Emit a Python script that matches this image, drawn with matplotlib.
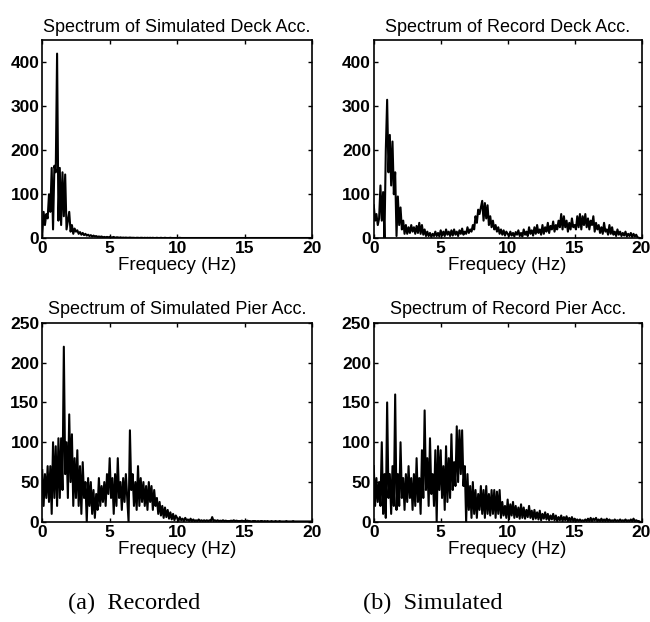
import numpy as np
import matplotlib.pyplot as plt

# frequency grid, 0.1 Hz steps
freq = np.arange(200) * 0.1

# top-left: Spectrum of Simulated Deck Acc.
sim_deck = [
    5, 60, 30, 55, 45, 100, 60, 160, 20, 165,
    150, 420, 40, 160, 30, 150, 50, 145, 20, 40,
    60, 15, 30, 10, 22, 15, 18, 10, 14, 8,
    12, 7, 10, 6, 8, 5, 7, 4, 6, 4,
    5, 3, 4, 3, 4, 2, 3, 2, 3, 2,
    3, 2, 2, 3, 1, 2, 2, 1, 2, 1,
    1.5, 1, 1.5, 1, 1, 1.5, 1, 1, 1, 0.5,
    1, 1, 0.5, 1, 1, 0.5, 1, 0.5, 1, 0.5,
    1, 0.5, 1, 0.5, 0.5, 1, 0.5, 0.5, 1, 0.5,
    0.5, 1, 0.5, 0.5, 0.5, 1, 0.5, 0.5, 0.5, 0.5,
    0.5, 0.5, 1, 0.5, 0.5, 0.5, 0.5, 0.5, 0.5, 0.5,
    0.5, 0.5, 0.5, 0.5, 0.5, 0.5, 0.5, 0.5, 0.5, 0.5,
    0.5, 0.5, 0.5, 0.5, 0.5, 0.5, 0.5, 0.5, 0.5, 0.5,
    0.5, 0.5, 0.5, 0.5, 0.5, 0.5, 0.5, 0.5, 0.5, 0.5,
    0.5, 0.5, 0.5, 0.5, 0.5, 0.5, 0.5, 0.5, 0.5, 0.5,
    0.5, 0.5, 0.5, 0.5, 0.5, 0.5, 0.5, 0.5, 0.5, 0.5,
    0.5, 0.5, 0.5, 0.5, 0.5, 0.5, 0.5, 0.5, 0.5, 0.5,
    0.5, 0.5, 0.5, 0.5, 0.5, 0.5, 0.5, 0.5, 0.5, 0.5,
    0.5, 0.5, 0.5, 0.5, 0.5, 0.5, 0.5, 0.5, 0.5, 0.5,
    0.5, 0.5, 0.5, 0.5, 0.5, 0.5, 0.5, 0.5, 0.5, 0.5,
]

# top-right: Spectrum of Record Deck Acc.
rec_deck = [
    75, 40, 55, 30, 45, 120, 40, 105, 0, 200,
    315, 150, 235, 120, 220, 100, 150, 5, 95, 30,
    70, 20, 40, 10, 30, 10, 25, 12, 30, 15,
    25, 10, 28, 12, 35, 10, 30, 8, 20, 5,
    15, 5, 12, 3, 10, 5, 15, 5, 12, 4,
    18, 6, 15, 5, 20, 8, 15, 5, 18, 6,
    20, 8, 15, 5, 18, 10, 22, 8, 15, 10,
    25, 12, 20, 15, 30, 20, 50, 35, 65, 55,
    70, 85, 40, 80, 45, 75, 30, 50, 25, 40,
    20, 30, 15, 25, 10, 20, 8, 18, 6, 15,
    10, 5, 15, 6, 12, 4, 14, 8, 18, 5,
    12, 4, 20, 8, 15, 5, 25, 10, 18, 6,
    25, 10, 30, 12, 20, 8, 30, 10, 25, 15,
    35, 12, 28, 20, 38, 15, 30, 20, 40, 25,
    55, 20, 50, 25, 40, 15, 35, 20, 45, 25,
    30, 20, 50, 25, 55, 20, 50, 30, 55, 25,
    45, 20, 40, 30, 50, 15, 35, 20, 30, 12,
    25, 10, 35, 15, 20, 8, 30, 10, 25, 8,
    15, 5, 20, 8, 15, 5, 12, 6, 15, 4,
    10, 5, 12, 3, 10, 4, 8, 2, 1, 0,
]

# bottom-left: Spectrum of Simulated Pier Acc.
sim_pier = [
    65, 20, 60, 30, 70, 25, 70, 10, 100, 30,
    95, 20, 105, 30, 105, 40, 220, 60, 100, 30,
    135, 50, 110, 20, 80, 30, 90, 20, 70, 10,
    75, 30, 50, 0, 55, 20, 50, 10, 40, 5,
    35, 15, 55, 20, 45, 25, 50, 20, 60, 35,
    80, 30, 55, 10, 60, 20, 80, 30, 50, 15,
    55, 25, 60, 30, 0, 115, 40, 60, 20, 50,
    15, 70, 20, 55, 25, 50, 20, 45, 15, 50,
    25, 45, 15, 40, 20, 30, 10, 25, 8, 20,
    5, 18, 6, 15, 4, 12, 3, 10, 2, 8,
    5, 1, 6, 2, 4, 1, 5, 2, 3, 1,
    4, 1, 3, 1, 2, 1, 3, 1, 2, 1,
    2, 1, 2, 1, 2, 1, 6, 1, 2, 1,
    2, 1, 1.5, 1, 2, 1, 1.5, 1, 1, 1,
    1.5, 1, 2, 1, 1.5, 1, 1, 1, 1.5, 1,
    1, 1, 1.5, 1, 1, 0.5, 1, 1, 1, 0.5,
    1, 0.5, 1, 1, 0.5, 1, 0.5, 1, 0.5, 0.5,
    1, 0.5, 0.5, 1, 0.5, 0.5, 1, 0.5, 0.5, 0.5,
    0.5, 1, 0.5, 0.5, 0.5, 0.5, 1, 0.5, 0.5, 0.5,
    0.5, 0.5, 0.5, 0.5, 0.5, 0.5, 0.5, 0.5, 0.5, 0.5,
]

# bottom-right: Spectrum of Record Pier Acc.
rec_pier = [
    70, 20, 55, 25, 50, 20, 100, 10, 60, 5,
    150, 30, 60, 10, 70, 20, 160, 15, 60, 20,
    100, 30, 55, 15, 60, 25, 70, 30, 55, 15,
    60, 20, 80, 25, 55, 10, 90, 30, 140, 40,
    80, 20, 105, 35, 60, 20, 90, 0, 95, 40,
    90, 30, 70, 15, 95, 25, 80, 30, 110, 40,
    75, 45, 120, 50, 115, 60, 115, 45, 70, 0,
    60, 15, 45, 5, 50, 10, 40, 5, 35, 15,
    45, 10, 40, 5, 45, 10, 35, 8, 40, 10,
    40, 5, 38, 10, 40, 5, 25, 8, 20, 5,
    28, 3, 22, 8, 25, 5, 20, 6, 18, 4,
    22, 5, 18, 4, 15, 6, 20, 5, 14, 3,
    15, 4, 12, 3, 14, 2, 10, 4, 12, 3,
    10, 2, 8, 3, 10, 2, 8, 1, 6, 2,
    8, 1, 6, 2, 7, 1, 5, 1, 6, 1,
    4, 1, 3, 1, 3, 1, 2, 1, 3, 1,
    4, 1, 5, 1, 4, 2, 5, 1, 3, 1,
    4, 1, 3, 1, 4, 1, 3, 1, 2, 1,
    3, 1, 2, 1, 3, 1, 2, 1, 3, 1,
    2, 1, 3, 1, 4, 1, 2, 1, 1, 0,
]

panels = [
    ('Spectrum of Simulated Deck Acc.', sim_deck, 450, [0, 100, 200, 300, 400]),
    ('Spectrum of Record Deck Acc.', rec_deck, 450, [0, 100, 200, 300, 400]),
    ('Spectrum of Simulated Pier Acc.', sim_pier, 250, [0, 50, 100, 150, 200, 250]),
    ('Spectrum of Record Pier Acc.', rec_pier, 250, [0, 50, 100, 150, 200, 250]),
]

# axes boxes in figure fraction
boxes = [
    [0.065, 0.617, 0.415, 0.318],
    [0.575, 0.617, 0.412, 0.318],
    [0.065, 0.161, 0.415, 0.320],
    [0.575, 0.161, 0.412, 0.320],
]

plt.rcParams['font.family'] = ['Liberation Sans', 'DejaVu Sans']

fig = plt.figure(figsize=(6.5, 6.22), dpi=100)

for (title, vals, ymax, yt), box in zip(panels, boxes):
    ax = fig.add_axes(box)
    ax.plot(freq, vals, color='black', linewidth=1.5)
    ax.set_xlim(0, 20)
    ax.set_ylim(0, ymax)
    ax.set_xticks([0, 5, 10, 15, 20])
    ax.set_yticks(yt)
    ax.tick_params(direction='in', top=True, right=True, length=3, width=1,
                   labelsize=12.5, pad=2)
    for lab in ax.get_xticklabels() + ax.get_yticklabels():
        lab.set_fontweight('bold')
    for s in ax.spines.values():
        s.set_linewidth(1.2)
    ax.set_title(title, fontsize=13, pad=6)
    ax.set_xlabel('Frequecy (Hz)', fontsize=13.5, labelpad=1)

fig.text(0.206, 0.03, '(a)  Recorded', family='Liberation Serif', fontsize=17.5,
         ha='center', va='center')
fig.text(0.666, 0.03, '(b)  Simulated', family='Liberation Serif', fontsize=17.5,
         ha='center', va='center')

fig.savefig('out.png', dpi=100)
